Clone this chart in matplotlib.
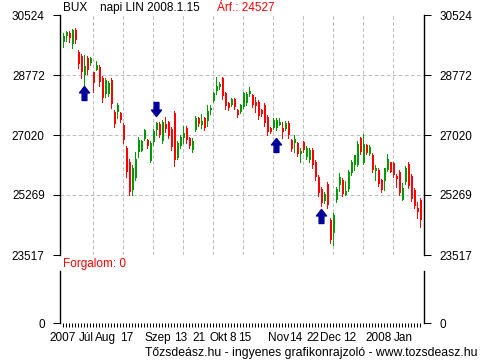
import numpy as np
import matplotlib
matplotlib.use('Agg')
import matplotlib.pyplot as plt
from matplotlib.path import Path
from matplotlib.transforms import offset_copy, blended_transform_factory

# BUX daily candles, Jul 2007 - 2008.1.15
opens = [29736, 29911, 29998, 29677, 30086, 29444, 29327, 28772, 29268, 29122,
         28860, 28918, 29006, 28684, 28217, 28217, 28626, 27692, 27692, 27662,
         27312, 26640, 26232, 25414, 25764, 26524, 26553, 26903, 26874, 26261,
         26816, 27166, 27341, 26845, 27341, 27400, 27195, 27662, 26348, 26699,
         26932, 27224, 26932, 26582, 27166, 27516, 27312, 27516, 27429, 27750,
         28013, 28305, 28422, 28684, 28246, 27954, 27896, 28071, 27750, 27692,
         27838, 27954, 28217, 28188, 27984, 27984, 27750, 27896, 27546, 27224,
         27224, 27224, 27312, 27224, 27195, 27370, 26874, 26786, 26786, 26465,
         26816, 26378, 26290, 26582, 26232, 25794, 25443, 25093, 25589, 24538,
         24158, 25122, 25560, 25706, 25268, 25443, 25910, 26144, 26144, 26932,
         26202, 26728, 26465, 26436, 25969, 25998, 25706, 25677, 25998, 26232,
         26202, 25823, 25940, 25122, 25648, 26173, 25823, 25414, 24888, 25122]
highs = [29998, 30057, 30057, 30115, 30144, 29502, 29385, 29356, 29327, 29298,
         28860, 29181, 29064, 28743, 28684, 28597, 28684, 27750, 27954, 27692,
         27370, 26699, 26319, 26144, 26524, 26962, 26874, 27195, 26903, 26845,
         27195, 27400, 27400, 27458, 27546, 27429, 27254, 27721, 26845, 27020,
         27283, 27283, 26962, 26932, 27575, 27546, 27633, 27546, 27896, 27896,
         28276, 28714, 28568, 28714, 28276, 27984, 28100, 28100, 27779, 27925,
         28276, 28276, 28422, 28217, 28130, 28042, 27779, 27954, 27604, 27254,
         27516, 27516, 27516, 27400, 27429, 27429, 26903, 27020, 26816, 26640,
         26845, 26699, 26640, 26640, 26290, 25852, 25502, 25356, 25648, 24596,
         24742, 25502, 25910, 25764, 25677, 25998, 26290, 26436, 26845, 26962,
         27049, 26757, 26728, 26494, 26144, 26056, 25735, 26056, 26465, 26232,
         26232, 25881, 25998, 25618, 26115, 26232, 25881, 25472, 25064, 25180]
lows = [29590, 29765, 29736, 29560, 29706, 28976, 28684, 28480, 28801, 29064,
        28276, 28918, 28451, 27984, 28130, 28159, 27808, 27254, 27516, 27400,
        26786, 25794, 25268, 25268, 25706, 26378, 26553, 26874, 26640, 26232,
        26728, 27020, 26962, 26786, 27108, 26932, 26582, 26115, 26319, 26640,
        26786, 26786, 26640, 26524, 27137, 27283, 27224, 27166, 27283, 27633,
        27984, 28217, 28363, 28071, 27779, 27750, 27867, 27779, 27546, 27662,
        27808, 27896, 28159, 27838, 27692, 27487, 27575, 27283, 27020, 27078,
        27195, 27166, 27312, 26932, 27166, 26932, 26553, 26524, 26407, 26232,
        26524, 26319, 26232, 26056, 25706, 25239, 24947, 25034, 24888, 23866,
        23808, 25064, 25385, 25239, 25268, 25385, 25852, 25998, 26115, 26465,
        26173, 26465, 26436, 25940, 25706, 25531, 25356, 25414, 25969, 25940,
        25794, 25502, 25268, 25122, 25589, 25472, 25093, 24888, 24596, 24334]
closes = [29911, 30028, 29852, 30086, 29794, 29093, 28860, 29035, 28918, 29268,
          28538, 29064, 28568, 28100, 28626, 28538, 27925, 27341, 27896, 27458,
          26874, 25940, 25356, 26056, 26319, 26874, 26845, 27166, 26699, 26786,
          27137, 27370, 27020, 27400, 27195, 26991, 26670, 26290, 26786, 26962,
          27078, 26874, 26699, 26845, 27516, 27341, 27429, 27224, 27721, 27808,
          28246, 28451, 28509, 28159, 27867, 27808, 28071, 27838, 27604, 27896,
          28246, 28217, 28305, 27896, 27867, 27575, 27633, 27370, 27108, 27108,
          27458, 27458, 27400, 27108, 27370, 27020, 26611, 26903, 26465, 26553,
          26582, 26640, 26582, 26144, 25794, 25326, 25034, 25297, 24976, 23954,
          24684, 25443, 25794, 25297, 25385, 25940, 26232, 26436, 26757, 26524,
          26757, 26494, 26670, 25998, 26056, 25589, 25414, 26056, 26319, 25940,
          25852, 25735, 25326, 25472, 26056, 25531, 25151, 24947, 24772, 24527]

# buy / sell signal arrows (candle index, direction, arrow tip price)
signal_idx = [7, 31, 71, 86]
signal_dir = ['up', 'down', 'up', 'up']
signal_price = [28451, 27575, 26932, 24859]

price_ticks = [23517, 25269, 27020, 28772, 30524]
grid_prices = [25269, 27020, 28772]

date_labels = ['2007', 'Júl', 'Aug', '17', 'Szep', '13', '21', 'Okt', '8', '15',
               'Nov', '14', '22', 'Dec', '12', '2008', 'Jan']
date_pos = [-0.3, 7.6, 14.1, 21.1, 31.4, 39.1, 45.1, 51.7, 56.4, 60.4,
            71.6, 77.6, 83.2, 89.2, 95.6, 105.2, 113.2]

W, H = 486, 360
plt.rcParams['font.family'] = ['Liberation Sans', 'DejaVu Sans']
plt.rcParams['font.size'] = 8.5

fig = plt.figure(figsize=(W / 100, H / 100), dpi=100)

def px_rect(x0, y0, x1, y1):
    return [x0 / W, 1 - y1 / H, (x1 - x0) / W, (y1 - y0) / H]

ax = fig.add_axes(px_rect(60, 15, 424, 255))
axv = fig.add_axes(px_rect(60, 271, 424, 323))

n = len(closes)
idx = np.arange(n)
o = np.array(opens); c = np.array(closes)
hi = np.array(highs); lo = np.array(lows)
up = c >= o
cols = np.where(up, '#009900', '#ff0000')

xmin = -1.1
xmax = xmin + 364 / 3.0

ax.vlines(idx, lo, hi, colors=cols, linewidth=0.72, antialiased=False, zorder=3)
ax.bar(idx + 0.2, np.abs(c - o), bottom=np.minimum(o, c), width=0.45,
       color=cols, linewidth=0, antialiased=False, zorder=3)

# arrows as custom markers
up_verts = [(0, 0.5), (0.36, 0.04), (0.17, 0.04), (0.17, -0.5),
            (-0.17, -0.5), (-0.17, 0.04), (-0.36, 0.04), (0, 0.5)]
up_path = Path(up_verts, closed=True)
down_path = Path([(x, -y) for x, y in up_verts], closed=True)
for i, d, p in zip(signal_idx, signal_dir, signal_price):
    if d == 'up':
        tr = offset_copy(ax.transData, fig=fig, y=-7, units='dots')
        m = up_path
    else:
        tr = offset_copy(ax.transData, fig=fig, y=7, units='dots')
        m = down_path
    ax.plot([i], [p], marker=m, markersize=10.1, color='#000099',
            linestyle='none', transform=tr, zorder=4, clip_on=False)

ax.set_xlim(xmin, xmax)
ax.set_ylim(price_ticks[0], price_ticks[-1])
for g in grid_prices:
    ax.axhline(g, color='#c0c0c0', linewidth=0.75, dashes=(3.6, 2.2), zorder=1)
for g in range(10, n, 10):
    ax.axvline(g, color='#c0c0c0', linewidth=0.75, dashes=(3.6, 2.2), zorder=1)

ax.set_yticks(price_ticks)
ax.set_yticklabels([str(v) for v in price_ticks])
ax.set_xticks([])
ax.tick_params(axis='y', which='both', left=True, right=True, labelleft=True,
               labelright=True, direction='out', length=5, width=0.75, pad=6)
for s in ['top', 'bottom']:
    ax.spines[s].set_visible(False)
for s in ['left', 'right']:
    ax.spines[s].set_linewidth(1)

# volume panel (empty)
axv.set_xlim(xmin, xmax)
axv.set_ylim(0, 1)
axv.set_yticks([0])
axv.set_yticklabels(['0'])
axv.set_xticks(idx)
axv.set_xticklabels([])
axv.tick_params(axis='y', left=True, right=True, labelleft=True, labelright=True,
                direction='out', length=5, width=0.75, pad=6)
axv.tick_params(axis='x', direction='out', length=3, width=0.75)
for s in ['top', 'bottom']:
    axv.spines[s].set_visible(False)
for s in ['left', 'right']:
    axv.spines[s].set_linewidth(1)

tr = blended_transform_factory(axv.transData, fig.transFigure)
for lab, p in zip(date_labels, date_pos):
    axv.text(p, 1 - 338 / H, lab, transform=tr, ha='center', va='center')

fig.text(63 / W, 1 - 8 / H, 'BUX', ha='left', va='center')
fig.text(100 / W, 1 - 8 / H, 'napi LIN 2008.1.15', ha='left', va='center')
fig.text(217 / W, 1 - 8 / H, 'Árf.: ' + str(closes[-1]), ha='left', va='center',
         color='#ff0000')
fig.text(63 / W, 1 - 264 / H, 'Forgalom: 0', ha='left', va='center', color='#ff0000')
fig.text(477 / W, 1 - 353 / H, 'Tőzsdeász.hu - ingyenes grafikonrajzoló - www.tozsdeasz.hu',
         ha='right', va='center', fontsize=8.85)

fig.savefig('out.png', dpi=100)
